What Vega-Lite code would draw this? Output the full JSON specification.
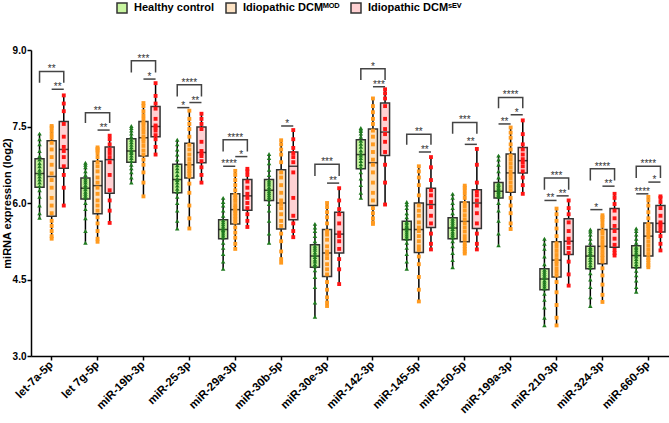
{
  "$schema": "https://vega.github.io/schema/vega-lite/v6.json",
  "width": 638,
  "height": 306,
  "autosize": {"type": "none"},
  "padding": {"left": 31, "top": 50, "right": 0, "bottom": 67},
  "background": "white",
  "config": {
    "view": {"stroke": null},
    "font": "Liberation Sans"
  },
  "datasets": {
    "br": [
      {"id": 1, "m": "let-7a-5p", "k": "c", "s": "**", "ty": 8.58, "tg": "M", "g": ["H","H","S","S"], "y": [8.36,8.58,8.58,8.36]},
      {"id": 2, "m": "let-7a-5p", "k": "r", "s": "**", "ty": 8.23, "tg": "M", "g": ["M","S"], "y": [8.23,8.23]},
      {"id": 3, "m": "let 7g-5p", "k": "c", "s": "**", "ty": 7.77, "tg": "M", "g": ["H","H","S","S"], "y": [7.57,7.77,7.77,7.57]},
      {"id": 4, "m": "let 7g-5p", "k": "r", "s": "**", "ty": 7.43, "tg": "M", "g": ["M","S"], "y": [7.43,7.43]},
      {"id": 5, "m": "miR-19b-3p", "k": "c", "s": "***", "ty": 8.79, "tg": "M", "g": ["H","H","S","S"], "y": [8.56,8.79,8.79,8.56]},
      {"id": 6, "m": "miR-19b-3p", "k": "r", "s": "*", "ty": 8.43, "tg": "M", "g": ["M","S"], "y": [8.43,8.43]},
      {"id": 7, "m": "miR-25-3p", "k": "c", "s": "****", "ty": 8.32, "tg": "M", "g": ["H","H","S","S"], "y": [8.09,8.32,8.32,8.09]},
      {"id": 8, "m": "miR-25-3p", "k": "r", "s": "*", "ty": 7.87, "tg": "H", "g": ["H","M"], "y": [7.87,7.87]},
      {"id": 9, "m": "miR-25-3p", "k": "r", "s": "**", "ty": 7.97, "tg": "M", "g": ["M","S"], "y": [7.97,7.97]},
      {"id": 10, "m": "miR-29a-3p", "k": "c", "s": "****", "ty": 7.24, "tg": "M", "g": ["H","H","S","S"], "y": [7.01,7.24,7.24,7.01]},
      {"id": 11, "m": "miR-29a-3p", "k": "r", "s": "****", "ty": 6.72, "tg": "H", "g": ["H","M"], "y": [6.72,6.72]},
      {"id": 12, "m": "miR-29a-3p", "k": "r", "s": "*", "ty": 6.91, "tg": "M", "g": ["M","S"], "y": [6.91,6.91]},
      {"id": 13, "m": "miR-30b-5p", "k": "r", "s": "*", "ty": 7.51, "tg": "M", "g": ["M","S"], "y": [7.51,7.51]},
      {"id": 14, "m": "miR-30e-3p", "k": "c", "s": "***", "ty": 6.76, "tg": "M", "g": ["H","H","S","S"], "y": [6.53,6.76,6.76,6.53]},
      {"id": 15, "m": "miR-30e-3p", "k": "r", "s": "**", "ty": 6.39, "tg": "M", "g": ["M","S"], "y": [6.39,6.39]},
      {"id": 16, "m": "miR-142-3p", "k": "c", "s": "*", "ty": 8.63, "tg": "M", "g": ["H","H","S","S"], "y": [8.41,8.63,8.63,8.41]},
      {"id": 17, "m": "miR-142-3p", "k": "r", "s": "***", "ty": 8.28, "tg": "M", "g": ["M","S"], "y": [8.28,8.28]},
      {"id": 18, "m": "miR-145-5p", "k": "c", "s": "**", "ty": 7.35, "tg": "M", "g": ["H","H","S","S"], "y": [7.14,7.35,7.35,7.14]},
      {"id": 19, "m": "miR-145-5p", "k": "r", "s": "**", "ty": 7.0, "tg": "M", "g": ["M","S"], "y": [7.0,7.0]},
      {"id": 20, "m": "miR-150-5p", "k": "c", "s": "***", "ty": 7.58, "tg": "M", "g": ["H","H","S","S"], "y": [7.36,7.58,7.58,7.36]},
      {"id": 21, "m": "miR-150-5p", "k": "r", "s": "**", "ty": 7.15, "tg": "M", "g": ["M","S"], "y": [7.15,7.15]},
      {"id": 22, "m": "miR-199a-3p", "k": "c", "s": "****", "ty": 8.07, "tg": "M", "g": ["H","H","S","S"], "y": [7.86,8.07,8.07,7.86]},
      {"id": 23, "m": "miR-199a-3p", "k": "r", "s": "**", "ty": 7.55, "tg": "H", "g": ["H","M"], "y": [7.55,7.55]},
      {"id": 24, "m": "miR-199a-3p", "k": "r", "s": "*", "ty": 7.73, "tg": "M", "g": ["M","S"], "y": [7.73,7.73]},
      {"id": 25, "m": "miR-210-3p", "k": "c", "s": "***", "ty": 6.49, "tg": "M", "g": ["H","H","S","S"], "y": [6.26,6.49,6.49,6.26]},
      {"id": 26, "m": "miR-210-3p", "k": "r", "s": "**", "ty": 6.05, "tg": "H", "g": ["H","M"], "y": [6.05,6.05]},
      {"id": 27, "m": "miR-210-3p", "k": "r", "s": "**", "ty": 6.14, "tg": "M", "g": ["M","S"], "y": [6.14,6.14]},
      {"id": 28, "m": "miR-324-3p", "k": "c", "s": "****", "ty": 6.67, "tg": "M", "g": ["H","H","S","S"], "y": [6.44,6.67,6.67,6.44]},
      {"id": 29, "m": "miR-324-3p", "k": "r", "s": "*", "ty": 5.87, "tg": "H", "g": ["H","M"], "y": [5.87,5.87]},
      {"id": 30, "m": "miR-324-3p", "k": "r", "s": "**", "ty": 6.33, "tg": "M", "g": ["M","S"], "y": [6.33,6.33]},
      {"id": 31, "m": "miR-660-5p", "k": "c", "s": "****", "ty": 6.72, "tg": "M", "g": ["H","H","S","S"], "y": [6.49,6.72,6.72,6.49]},
      {"id": 32, "m": "miR-660-5p", "k": "r", "s": "****", "ty": 6.18, "tg": "H", "g": ["H","M"], "y": [6.18,6.18]},
      {"id": 33, "m": "miR-660-5p", "k": "r", "s": "*", "ty": 6.41, "tg": "M", "g": ["M","S"], "y": [6.41,6.41]}
    ]
  },
  "data": {
    "values": [
      {"m": "let-7a-5p", "g": "H", "lo": 5.71, "q1": 6.31, "md": 6.58, "q3": 6.87, "hi": 7.36, "v": [5.71,5.80,5.95,6.12,6.25,6.33,6.40,6.46,6.52,6.57,6.60,6.65,6.72,6.78,6.85,6.92,7.02,7.15,7.25,7.36]},
      {"m": "let-7a-5p", "g": "M", "lo": 5.30, "q1": 5.74, "md": 6.52, "q3": 7.22, "hi": 7.51, "v": [5.30,5.35,5.45,5.55,5.65,5.80,5.95,6.10,6.30,6.45,6.58,6.75,6.90,7.05,7.18,7.28,7.35,7.42,7.48,7.51]},
      {"m": "let-7a-5p", "g": "S", "lo": 5.95, "q1": 6.68, "md": 7.05, "q3": 7.60, "hi": 8.11, "v": [5.95,6.30,6.55,6.72,6.90,7.02,7.10,7.30,7.55,7.80,7.95,8.11]},
      {"m": "let 7g-5p", "g": "H", "lo": 5.22, "q1": 6.08, "md": 6.29, "q3": 6.49, "hi": 6.79, "v": [5.22,5.45,5.70,5.88,6.00,6.10,6.14,6.18,6.22,6.27,6.31,6.35,6.40,6.44,6.48,6.55,6.62,6.70,6.75,6.79]},
      {"m": "let 7g-5p", "g": "M", "lo": 5.24, "q1": 5.79, "md": 6.34, "q3": 6.82, "hi": 7.09, "v": [5.24,5.30,5.45,5.60,5.72,5.85,5.95,6.05,6.18,6.30,6.40,6.50,6.62,6.72,6.80,6.90,6.98,7.03,7.06,7.09]},
      {"m": "let 7g-5p", "g": "S", "lo": 5.61, "q1": 6.19, "md": 6.85, "q3": 7.10, "hi": 7.32, "v": [5.61,5.85,6.05,6.25,6.55,6.80,6.90,6.98,7.05,7.15,7.25,7.32]},
      {"m": "miR-19b-3p", "g": "H", "lo": 6.40, "q1": 6.80, "md": 7.02, "q3": 7.26, "hi": 7.51, "v": [6.40,6.50,6.60,6.68,6.75,6.82,6.88,6.93,6.98,7.01,7.04,7.09,7.14,7.19,7.24,7.30,7.36,7.42,7.47,7.51]},
      {"m": "miR-19b-3p", "g": "M", "lo": 6.13, "q1": 6.92, "md": 7.28, "q3": 7.60, "hi": 7.96, "v": [6.13,6.40,6.60,6.75,6.85,6.95,7.03,7.12,7.20,7.26,7.30,7.38,7.45,7.52,7.58,7.65,7.72,7.80,7.90,7.96]},
      {"m": "miR-19b-3p", "g": "S", "lo": 6.95, "q1": 7.30, "md": 7.50, "q3": 7.89, "hi": 8.35, "v": [6.95,7.10,7.25,7.33,7.42,7.48,7.52,7.65,7.85,7.95,8.10,8.35]},
      {"m": "miR-25-3p", "g": "H", "lo": 5.50, "q1": 6.20, "md": 6.46, "q3": 6.76, "hi": 7.24, "v": [5.50,5.65,5.85,6.00,6.12,6.22,6.28,6.34,6.40,6.45,6.48,6.55,6.62,6.68,6.74,6.85,6.95,7.05,7.15,7.24]},
      {"m": "miR-25-3p", "g": "M", "lo": 5.50, "q1": 6.49, "md": 6.75, "q3": 7.17, "hi": 7.81, "v": [5.50,5.70,5.95,6.20,6.38,6.52,6.58,6.63,6.68,6.73,6.78,6.86,6.95,7.05,7.14,7.30,7.45,7.55,7.65,7.81]},
      {"m": "miR-25-3p", "g": "S", "lo": 6.40, "q1": 6.79, "md": 6.99, "q3": 7.49, "hi": 7.75, "v": [6.40,6.55,6.70,6.82,6.92,6.97,7.02,7.20,7.45,7.55,7.65,7.75]},
      {"m": "miR-29a-3p", "g": "H", "lo": 4.71, "q1": 5.30, "md": 5.48, "q3": 5.67, "hi": 6.10, "v": [4.71,4.85,5.00,5.12,5.22,5.32,5.36,5.40,5.44,5.47,5.50,5.54,5.58,5.62,5.66,5.75,5.85,5.95,6.02,6.10]},
      {"m": "miR-29a-3p", "g": "M", "lo": 5.10, "q1": 5.59, "md": 5.87, "q3": 6.18, "hi": 6.63, "v": [5.10,5.20,5.32,5.42,5.52,5.62,5.68,5.74,5.80,5.85,5.90,5.96,6.04,6.10,6.16,6.25,6.35,6.45,6.55,6.63]},
      {"m": "miR-29a-3p", "g": "S", "lo": 5.53, "q1": 5.86, "md": 6.14, "q3": 6.46, "hi": 6.67, "v": [5.53,5.65,5.78,5.90,6.00,6.10,6.18,6.30,6.42,6.55,6.62,6.67]},
      {"m": "miR-30b-5p", "g": "H", "lo": 5.22, "q1": 6.05, "md": 6.25, "q3": 6.46, "hi": 6.96, "v": [5.22,5.40,5.65,5.85,5.98,6.07,6.11,6.15,6.19,6.23,6.27,6.31,6.36,6.40,6.44,6.55,6.65,6.78,6.88,6.96]},
      {"m": "miR-30b-5p", "g": "M", "lo": 4.83, "q1": 5.49, "md": 6.00, "q3": 6.65, "hi": 7.23, "v": [4.83,4.90,5.05,5.25,5.40,5.55,5.65,5.78,5.90,5.98,6.05,6.20,6.35,6.50,6.60,6.80,6.95,7.05,7.15,7.23]},
      {"m": "miR-30b-5p", "g": "S", "lo": 5.33, "q1": 5.67, "md": 6.72, "q3": 7.00, "hi": 7.43, "v": [5.33,5.45,5.60,5.75,6.10,6.60,6.80,6.90,6.98,7.08,7.25,7.43]},
      {"m": "miR-30e-3p", "g": "H", "lo": 3.77, "q1": 4.74, "md": 4.96, "q3": 5.18, "hi": 5.59, "v": [3.77,4.05,4.35,4.55,4.68,4.76,4.80,4.85,4.89,4.94,4.98,5.03,5.08,5.12,5.16,5.25,5.35,5.45,5.52,5.59]},
      {"m": "miR-30e-3p", "g": "M", "lo": 3.98, "q1": 4.56, "md": 5.02, "q3": 5.48, "hi": 6.00, "v": [3.98,4.05,4.15,4.30,4.45,4.60,4.70,4.80,4.92,5.00,5.05,5.15,5.28,5.38,5.45,5.60,5.72,5.82,5.92,6.00]},
      {"m": "miR-30e-3p", "g": "S", "lo": 4.41, "q1": 5.02, "md": 5.39, "q3": 5.82, "hi": 6.29, "v": [4.41,4.70,4.90,5.10,5.25,5.35,5.42,5.60,5.78,5.88,6.05,6.29]},
      {"m": "miR-142-3p", "g": "H", "lo": 6.10, "q1": 6.67, "md": 6.95, "q3": 7.24, "hi": 7.47, "v": [6.10,6.20,6.35,6.48,6.60,6.70,6.76,6.82,6.88,6.93,6.97,7.03,7.10,7.16,7.22,7.30,7.36,7.41,7.44,7.47]},
      {"m": "miR-142-3p", "g": "M", "lo": 5.59, "q1": 5.95, "md": 6.79, "q3": 7.45, "hi": 8.05, "v": [5.59,5.62,5.70,5.80,5.90,6.05,6.20,6.40,6.60,6.75,6.85,7.00,7.15,7.30,7.42,7.55,7.65,7.78,7.90,8.05]},
      {"m": "miR-142-3p", "g": "S", "lo": 5.97, "q1": 6.93, "md": 7.39, "q3": 7.96, "hi": 8.23, "v": [5.97,6.40,6.75,7.00,7.20,7.35,7.45,7.65,7.90,8.05,8.15,8.23]},
      {"m": "miR-145-5p", "g": "H", "lo": 4.71, "q1": 5.28, "md": 5.48, "q3": 5.64, "hi": 6.02, "v": [4.71,4.85,5.00,5.12,5.22,5.30,5.34,5.38,5.42,5.46,5.50,5.53,5.56,5.60,5.63,5.72,5.80,5.90,5.97,6.02]},
      {"m": "miR-145-5p", "g": "M", "lo": 4.07, "q1": 5.03, "md": 5.48, "q3": 6.00, "hi": 6.72, "v": [4.07,4.30,4.55,4.80,4.95,5.08,5.15,5.25,5.35,5.45,5.52,5.62,5.75,5.85,5.95,6.15,6.35,6.50,6.62,6.72]},
      {"m": "miR-145-5p", "g": "S", "lo": 5.09, "q1": 5.52, "md": 5.97, "q3": 6.29, "hi": 6.90, "v": [5.09,5.20,5.40,5.60,5.75,5.92,6.02,6.15,6.25,6.45,6.70,6.90]},
      {"m": "miR-150-5p", "g": "H", "lo": 4.74, "q1": 5.30, "md": 5.51, "q3": 5.71, "hi": 6.18, "v": [4.74,4.88,5.02,5.15,5.25,5.32,5.36,5.40,5.44,5.49,5.53,5.57,5.61,5.65,5.69,5.80,5.90,6.00,6.10,6.18]},
      {"m": "miR-150-5p", "g": "M", "lo": 5.01, "q1": 5.24, "md": 5.64, "q3": 6.02, "hi": 6.34, "v": [5.01,5.05,5.10,5.15,5.20,5.28,5.35,5.44,5.52,5.60,5.68,5.76,5.85,5.93,6.00,6.10,6.18,6.25,6.30,6.34]},
      {"m": "miR-150-5p", "g": "S", "lo": 5.09, "q1": 5.50, "md": 6.00, "q3": 6.26, "hi": 7.06, "v": [5.09,5.20,5.40,5.60,5.80,5.95,6.05,6.15,6.22,6.40,6.75,7.06]},
      {"m": "miR-199a-3p", "g": "H", "lo": 5.17, "q1": 6.10, "md": 6.23, "q3": 6.40, "hi": 6.93, "v": [5.17,5.40,5.65,5.85,6.00,6.12,6.15,6.18,6.21,6.23,6.26,6.29,6.32,6.35,6.38,6.50,6.62,6.75,6.85,6.93]},
      {"m": "miR-199a-3p", "g": "M", "lo": 5.49, "q1": 6.21, "md": 6.59, "q3": 6.96, "hi": 7.48, "v": [5.49,5.60,5.80,5.95,6.10,6.25,6.32,6.40,6.48,6.55,6.62,6.70,6.78,6.86,6.93,7.05,7.15,7.28,7.38,7.48]},
      {"m": "miR-199a-3p", "g": "S", "lo": 6.18, "q1": 6.59, "md": 6.83, "q3": 7.09, "hi": 7.62, "v": [6.18,6.35,6.50,6.62,6.72,6.80,6.86,6.95,7.05,7.15,7.35,7.62]},
      {"m": "miR-210-3p", "g": "H", "lo": 3.60, "q1": 4.30, "md": 4.51, "q3": 4.71, "hi": 5.30, "v": [3.60,3.75,3.95,4.10,4.22,4.32,4.36,4.40,4.44,4.48,4.53,4.57,4.61,4.65,4.69,4.80,4.95,5.10,5.20,5.30]},
      {"m": "miR-210-3p", "g": "M", "lo": 3.60, "q1": 4.55, "md": 4.88, "q3": 5.24, "hi": 5.89, "v": [3.60,3.75,4.00,4.25,4.45,4.58,4.65,4.72,4.80,4.86,4.90,4.98,5.06,5.14,5.21,5.35,5.50,5.65,5.78,5.89]},
      {"m": "miR-210-3p", "g": "S", "lo": 4.38, "q1": 4.99, "md": 5.25, "q3": 5.69, "hi": 6.05, "v": [4.38,4.60,4.85,5.02,5.12,5.22,5.30,5.45,5.62,5.78,5.90,6.05]},
      {"m": "miR-324-3p", "g": "H", "lo": 3.98, "q1": 4.71, "md": 4.96, "q3": 5.15, "hi": 5.48, "v": [3.98,4.15,4.35,4.50,4.62,4.73,4.78,4.83,4.88,4.93,4.98,5.02,5.06,5.10,5.13,5.22,5.30,5.38,5.44,5.48]},
      {"m": "miR-324-3p", "g": "M", "lo": 4.06, "q1": 4.81, "md": 5.15, "q3": 5.48, "hi": 5.76, "v": [4.06,4.20,4.40,4.58,4.72,4.85,4.92,4.98,5.05,5.12,5.18,5.25,5.32,5.40,5.46,5.55,5.62,5.68,5.72,5.76]},
      {"m": "miR-324-3p", "g": "S", "lo": 4.97, "q1": 5.13, "md": 5.49, "q3": 5.89, "hi": 6.18, "v": [4.97,5.02,5.08,5.18,5.30,5.45,5.55,5.70,5.85,5.98,6.10,6.18]},
      {"m": "miR-660-5p", "g": "H", "lo": 4.26, "q1": 4.73, "md": 4.97, "q3": 5.16, "hi": 5.50, "v": [4.26,4.35,4.48,4.58,4.67,4.75,4.80,4.85,4.90,4.95,4.99,5.03,5.07,5.11,5.14,5.22,5.30,5.38,5.45,5.50]},
      {"m": "miR-660-5p", "g": "M", "lo": 4.74, "q1": 4.96, "md": 5.35, "q3": 5.61, "hi": 6.12, "v": [4.74,4.78,4.83,4.88,4.92,5.00,5.08,5.16,5.24,5.32,5.38,5.44,5.50,5.55,5.59,5.70,5.82,5.95,6.05,6.12]},
      {"m": "miR-660-5p", "g": "S", "lo": 5.07, "q1": 5.43, "md": 5.60, "q3": 5.95, "hi": 6.13, "v": [5.07,5.20,5.35,5.45,5.52,5.58,5.62,5.75,5.90,6.02,6.10,6.13]}
    ]
  },
  "encoding": {
    "x": {
      "field": "m",
      "type": "nominal",
      "scale": {
        "domain": ["let-7a-5p","let 7g-5p","miR-19b-3p","miR-25-3p","miR-29a-3p","miR-30b-5p","miR-30e-3p","miR-142-3p","miR-145-5p","miR-150-5p","miR-199a-3p","miR-210-3p","miR-324-3p","miR-660-5p"],
        "paddingInner": 0.2,
        "paddingOuter": 0.05
      },
      "axis": {
        "title": null,
        "labelAngle": -45,
        "labelAlign": "right",
        "labelBaseline": "middle",
        "labelPadding": 3,
        "labelFontSize": 11.5,
        "labelFontWeight": "bold",
        "labelColor": "black",
        "domainColor": "black",
        "domainWidth": 1.5,
        "tickColor": "black",
        "tickWidth": 1.5,
        "tickSize": 4,
        "labelLimit": 200
      }
    }
  },
  "layer": [
    {
      "mark": {"type": "rule", "color": "black", "strokeWidth": 1.5},
      "encoding": {
        "xOffset": {"field": "g", "type": "nominal", "scale": {"domain": ["H","M","S"], "paddingInner": 0.17, "paddingOuter": 0.1}},
        "y": {
          "field": "lo",
          "type": "quantitative",
          "title": "miRNA expression (log2)",
          "scale": {"domain": [3, 9], "nice": false, "zero": false},
          "axis": {
            "title": "miRNA expression (log2)",
            "values": [3, 4.5, 6, 7.5, 9],
            "format": ".1f",
            "grid": false,
            "labelFontSize": 10,
            "labelFontWeight": "bold",
            "labelColor": "black",
            "titleFontSize": 11,
            "titleFontWeight": "bold",
            "titleColor": "black",
            "titlePadding": 0,
            "domainColor": "black",
            "domainWidth": 1.5,
            "tickColor": "black",
            "tickWidth": 1.5,
            "tickSize": 4,
            "labelPadding": 1
          }
        },
        "y2": {"field": "hi"}
      }
    },
    {
      "mark": {"type": "bar", "stroke": "#333333", "strokeWidth": 1.5, "width": 9},
      "encoding": {
        "xOffset": {"field": "g", "type": "nominal"},
        "y": {"field": "q1", "type": "quantitative", "title": "miRNA expression (log2)", "scale": {"domain": [3, 9], "nice": false, "zero": false}},
        "y2": {"field": "q3"},
        "fill": {
          "field": "g",
          "type": "nominal",
          "scale": {"domain": ["H","M","S"], "range": ["#c8f5a0","#fde3c4","#ffd1d3"]},
          "legend": {
            "orient": "none",
            "legendX": 85,
            "legendY": -48,
            "direction": "horizontal",
            "title": null,
            "symbolType": "square",
            "symbolSize": 100,
            "symbolStrokeColor": "#333333",
            "symbolStrokeWidth": 1.5,
            "labelFontSize": 11,
            "labelFontWeight": "bold",
            "labelColor": "black",
            "labelOffset": 6,
            "columnPadding": 8,
            "labelExpr": "datum.value == 'H' ? 'Healthy control' : (datum.value == 'M' ? 'Idiopathic DCMᴹᴼᴰ' : 'Idiopathic DCMˢᴱⱽ')"
          }
        }
      }
    },
    {
      "mark": {"type": "tick", "color": "black", "thickness": 1.5, "size": 9},
      "encoding": {
        "xOffset": {"field": "g", "type": "nominal"},
        "y": {"field": "md", "type": "quantitative", "title": "miRNA expression (log2)", "scale": {"domain": [3, 9], "nice": false, "zero": false}}
      }
    },
    {
      "transform": [{"filter": "datum.g == 'H'"}, {"flatten": ["v"]}],
      "mark": {"type": "point", "filled": true, "opacity": 1, "shape": "triangle-up", "size": 20, "color": "#1f7a1f"},
      "encoding": {
        "xOffset": {"field": "g", "type": "nominal"},
        "y": {"field": "v", "type": "quantitative", "title": "miRNA expression (log2)", "scale": {"domain": [3, 9], "nice": false, "zero": false}}
      }
    },
    {
      "transform": [{"filter": "datum.g == 'M'"}, {"flatten": ["v"]}],
      "mark": {"type": "point", "filled": true, "opacity": 1, "shape": "square", "size": 15, "color": "#ff9a1f"},
      "encoding": {
        "xOffset": {"field": "g", "type": "nominal"},
        "y": {"field": "v", "type": "quantitative", "title": "miRNA expression (log2)", "scale": {"domain": [3, 9], "nice": false, "zero": false}}
      }
    },
    {
      "transform": [{"filter": "datum.g == 'S'"}, {"flatten": ["v"]}],
      "mark": {"type": "point", "filled": true, "opacity": 1, "shape": "square", "size": 15, "color": "#ff1414"},
      "encoding": {
        "xOffset": {"field": "g", "type": "nominal"},
        "y": {"field": "v", "type": "quantitative", "title": "miRNA expression (log2)", "scale": {"domain": [3, 9], "nice": false, "zero": false}}
      }
    },
    {
      "data": {"name": "br"},
      "transform": [{"flatten": ["g", "y"]}],
      "mark": {"type": "line", "color": "#444444", "strokeWidth": 1.5},
      "encoding": {
        "xOffset": {"field": "g", "type": "nominal"},
        "y": {"field": "y", "type": "quantitative", "title": "miRNA expression (log2)", "scale": {"domain": [3, 9], "nice": false, "zero": false}},
        "detail": {"field": "id", "type": "nominal"},
        "order": {"value": null}
      }
    },
    {
      "data": {"name": "br"},
      "transform": [{"filter": "datum.k == 'c'"}],
      "mark": {"type": "text", "fontSize": 10, "color": "#333333", "baseline": "alphabetic", "dy": 1},
      "encoding": {
        "xOffset": {"field": "tg", "type": "nominal"},
        "y": {"field": "ty", "type": "quantitative", "title": "miRNA expression (log2)", "scale": {"domain": [3, 9], "nice": false, "zero": false}},
        "text": {"field": "s"}
      }
    },
    {
      "data": {"name": "br"},
      "transform": [{"filter": "datum.k == 'r'"}],
      "mark": {"type": "text", "fontSize": 10, "color": "#333333", "baseline": "alphabetic", "dy": 1, "dx": 6},
      "encoding": {
        "xOffset": {"field": "tg", "type": "nominal"},
        "y": {"field": "ty", "type": "quantitative", "title": "miRNA expression (log2)", "scale": {"domain": [3, 9], "nice": false, "zero": false}},
        "text": {"field": "s"}
      }
    }
  ]
}
